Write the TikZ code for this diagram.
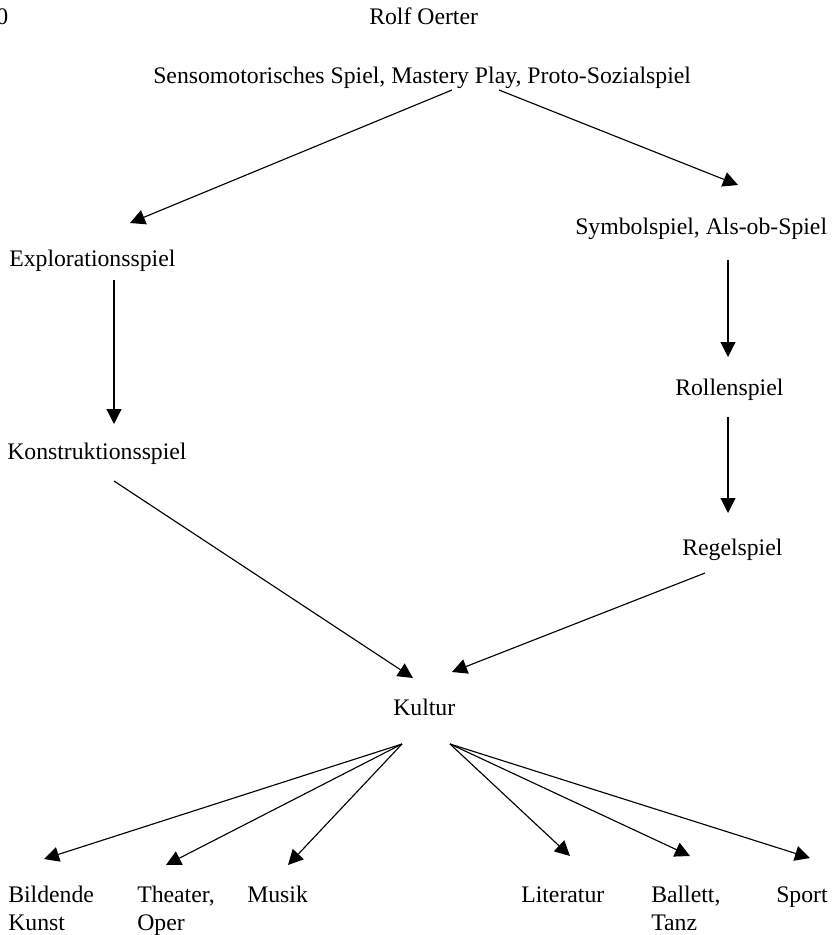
\documentclass[tikz,border=0pt]{standalone}
\usepackage{fontspec}
\setmainfont{Liberation Serif}
\usetikzlibrary{arrows.meta}
\begin{document}
\begin{tikzpicture}[x=0.75pt,y=-0.75pt,
  lbl/.style={anchor=base west,inner sep=0pt,font=\fontsize{17.8pt}{21pt}\selectfont},
  arr/.style={-{Triangle[length=11.25pt,width=11.25pt]},line width=0.85pt}]
\useasboundingbox (0,0) rectangle (833,935);
\node[lbl] (zero) at (-4,24) {0};
\node[lbl] (rolf) at (369,24) {Rolf Oerter};
\node[lbl] (senso) at (153,83) {Sensomotorisches Spiel, Mastery Play, Proto-Sozialspiel};
\node[lbl] (explor) at (9,266) {Explorationsspiel};
\node[lbl] (konstr) at (7,459) {Konstruktionsspiel};
\node[lbl] (symbol) at (575,234) {Symbolspiel, Als-ob-Spiel};
\node[lbl] (rollen) at (675,395) {Rollenspiel};
\node[lbl] (regel) at (682,555) {Regelspiel};
\node[lbl] (kultur) at (393,715) {Kultur};
\node[lbl] (bild) at (8,902) {\begin{tabular}[t]{@{}l@{}}Bildende\\Kunst\end{tabular}};
\node[lbl] (theater) at (137,902) {\begin{tabular}[t]{@{}l@{}}Theater,\\Oper\end{tabular}};
\node[lbl] (musik) at (247,902) {Musik};
\node[lbl] (literatur) at (521,902) {Literatur};
\node[lbl] (ballett) at (651,902) {\begin{tabular}[t]{@{}l@{}}Ballett,\\Tanz\end{tabular}};
\node[lbl] (sport) at (776,902) {Sport};

\draw[arr] ([shift={(299,7)}]senso.base west) -- ([shift={(121,-43)}]explor.base west);
\draw[arr] ([shift={(346,7)}]senso.base west) -- ([shift={(163,-49)}]symbol.base west);
\draw[arr] ([shift={(105,14)}]explor.base west) -- ([shift={(107,-35)}]konstr.base west);
\draw[arr] ([shift={(153,26)}]symbol.base west) -- ([shift={(53,-38)}]rollen.base west);
\draw[arr] ([shift={(53,22)}]rollen.base west) -- ([shift={(46,-42)}]regel.base west);
\draw[arr] ([shift={(107,22)}]konstr.base west) -- ([shift={(20,-37)}]kultur.base west);
\draw[arr] ([shift={(23,18)}]regel.base west) -- ([shift={(59,-43)}]kultur.base west);
\draw[arr] ([shift={(9,29)}]kultur.base west) -- ([shift={(36,-43)}]bild.base west);
\draw[arr] ([shift={(9,29)}]kultur.base west) -- ([shift={(29,-37)}]theater.base west);
\draw[arr] ([shift={(9,29)}]kultur.base west) -- ([shift={(41,-37)}]musik.base west);
\draw[arr] ([shift={(57,29)}]kultur.base west) -- ([shift={(49,-46)}]literatur.base west);
\draw[arr] ([shift={(57,29)}]kultur.base west) -- ([shift={(39,-46)}]ballett.base west);
\draw[arr] ([shift={(57,29)}]kultur.base west) -- ([shift={(34,-44)}]sport.base west);
\end{tikzpicture}
\end{document}
